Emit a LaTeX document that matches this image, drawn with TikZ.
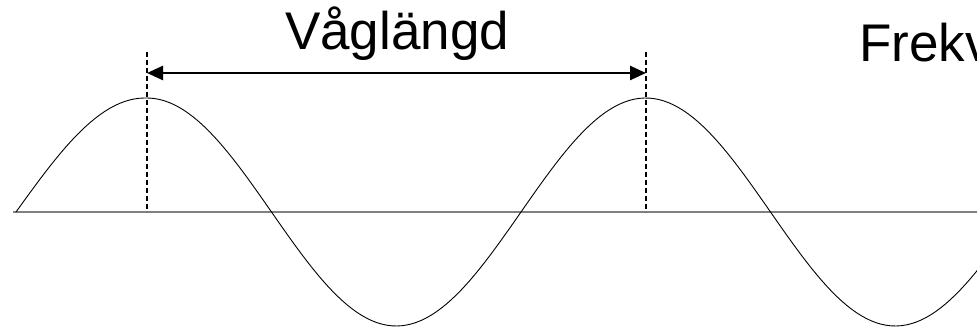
\documentclass[tikz,border=0pt]{standalone}
\usepackage{fontspec}
\setmainfont{Liberation Sans}
\usepackage{xcolor}
\definecolor{waveink}{HTML}{000000}
\definecolor{axisgrey}{HTML}{808080}
\usetikzlibrary{arrows.meta}

\begin{document}
\begin{tikzpicture}[x=1pt, y=-1pt, >={Triangle[length=16pt,width=14pt]},
                    every node/.style={waveink, font=\fontsize{53}{60}\selectfont}]

  %% ramen och klippning
  \useasboundingbox (0,0) rectangle (977,328);
  \clip (0,0) rectangle (977,328);

  %% axeln
  \draw[axisgrey, line width=1.5pt] (13,212) -- (990,212);

  %% sinusvågen, topp vid x=147 och x=646
  \draw[waveink, line width=0.9pt, domain=16:1000, samples=200]
    plot (\x, {212 - 114*sin((\x-16)/516*360)*(\x<147) - 114*sin((\x-22)/499*360)*(\x>=147)});

  %% topparna
  \coordinate (peakA) at (147,52);
  \coordinate (peakB) at (646,52);
  \coordinate (baseA) at (147,212);
  \coordinate (baseB) at (646,212);

  %% streckade markeringar
  \draw[waveink, line width=1.8pt, dash pattern=on 5pt off 3pt] (peakA) -- (baseA);
  \draw[waveink, line width=1.8pt, dash pattern=on 5pt off 3pt] (peakB) -- (baseB);

  %% våglängdspilen
  \coordinate (arrowA) at (147,73);
  \coordinate (arrowB) at (646,73);
  \draw[waveink, line width=2.5pt, <->] (arrowA) -- (arrowB);

  %% texter
  \node[anchor=base] (wavelength) at (397,50) {Våglängd};
  \node[anchor=base west, inner sep=0pt] (frequency) at (859,62) {Frekv};

\end{tikzpicture}
\end{document}
